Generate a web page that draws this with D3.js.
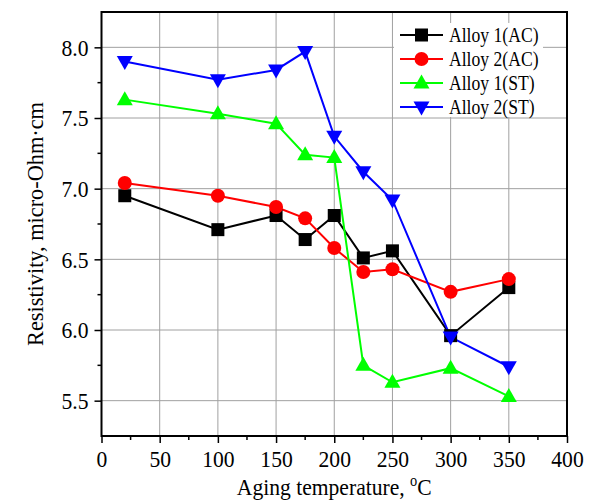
<!DOCTYPE html>
<html>
<head>
<meta charset="utf-8">
<script src="https://cdn.jsdelivr.net/npm/d3@7"></script>
<style>
  html, body { margin: 0; padding: 0; background: #fff; }
  svg text { font-family: "Liberation Serif", "Times New Roman", serif; fill: #000; }
</style>
</head>
<body>
<svg id="chart" width="592" height="503"></svg>
<script>
// Aging temperatures (°C)
const temps = [20, 100, 150, 175, 200, 225, 250, 300, 350];

// Resistivity, micro-Ohm·cm
const alloy1AC = [6.95, 6.71, 6.81, 6.64, 6.81, 6.51, 6.56, 5.96, 6.30];
const alloy2AC = [7.04, 6.95, 6.87, 6.79, 6.58, 6.41, 6.43, 6.27, 6.36];
const alloy1ST = [7.63, 7.53, 7.46, 7.24, 7.22, 5.75, 5.63, 5.73, 5.53];
const alloy2ST = [7.90, 7.77, 7.84, 7.97, 7.37, 7.12, 6.92, 5.95, 5.74];

const seriesNames = ["Alloy 1(AC)", "Alloy 2(AC)", "Alloy 1(ST)", "Alloy 2(ST)"];
const seriesColors = ["#000000", "#ff0000", "#00ff00", "#0000ff"];
const seriesSymbols = ["square", "circle", "up", "down"];

const xTicks = [0, 50, 100, 150, 200, 250, 300, 350, 400];
const yTicks = [5.5, 6.0, 6.5, 7.0, 7.5, 8.0];

const series = [alloy1AC, alloy2AC, alloy1ST, alloy2ST].map((vals, i) => ({
  name: seriesNames[i], color: seriesColors[i], symbol: seriesSymbols[i],
  points: temps.map((t, j) => ({ x: t, y: vals[j] }))
}));

const svg = d3.select("#chart");
const pLeft = 101.5, pRight = 567, pTop = 12, pBottom = 436;

const x = d3.scaleLinear().domain([0, 400]).range([pLeft, pRight]);
const y = d3.scaleLinear().domain([5.25, 8.25]).range([pBottom, pTop]);

// Narrow the serif face horizontally around an anchor point
function condense(sel, k, ax, ay) {
  sel.attr("transform", `translate(${ax},${ay}) scale(${k},1) translate(${-ax},${-ay})`);
}

// Grid lines at major ticks
const grid = svg.append("g").attr("stroke", "#a0a0a0").attr("stroke-width", 1);
grid.selectAll("line.v").data(xTicks.slice(1, -1)).join("line").attr("class", "v")
  .attr("x1", d => x(d)).attr("x2", d => x(d)).attr("y1", pTop).attr("y2", pBottom);
grid.selectAll("line.h").data(yTicks).join("line").attr("class", "h")
  .attr("y1", d => y(d)).attr("y2", d => y(d)).attr("x1", pLeft).attr("x2", pRight);

const legendRows = [35, 59, 83, 107];

// Marker drawing
function drawMarker(g, sym, color) {
  if (sym === "square") {
    g.append("rect").attr("x", -6.5).attr("y", -6.5).attr("width", 13).attr("height", 13).attr("fill", color);
  } else if (sym === "circle") {
    g.append("circle").attr("r", 7).attr("fill", color);
  } else if (sym === "up") {
    g.append("path").attr("d", "M0,-8.5 L8,5.5 L-8,5.5 Z").attr("fill", color);
  } else {
    g.append("path").attr("d", "M0,8.5 L8,-5.5 L-8,-5.5 Z").attr("fill", color);
  }
}

const line = d3.line().x(d => x(d.x)).y(d => y(d.y));
const plot = svg.append("g");
series.forEach(s => {
  plot.append("path").datum(s.points)
    .attr("d", line).attr("fill", "none")
    .attr("stroke", s.color).attr("stroke-width", 2);
});
series.forEach(s => {
  s.points.forEach(p => {
    const g = plot.append("g").attr("transform", `translate(${x(p.x)},${y(p.y)})`);
    drawMarker(g, s.symbol, s.color);
  });
});

// Legend
svg.append("rect").attr("x", 394).attr("y", 23).attr("width", 149).attr("height", 94).attr("fill", "#fff");
const legend = svg.append("g");
series.forEach((s, i) => {
  const ry = legendRows[i];
  legend.append("line").attr("x1", 400).attr("x2", 443).attr("y1", ry).attr("y2", ry)
    .attr("stroke", s.color).attr("stroke-width", 2);
  const g = legend.append("g").attr("transform", `translate(421.5,${ry})`);
  drawMarker(g, s.symbol, s.color);
  const t = legend.append("text").attr("x", 449).attr("y", ry + 7)
    .attr("font-size", 20.5).text(s.name);
  condense(t, 0.86, 449, ry + 7);
});

// Axes
const xAxis = d3.axisBottom(x).tickValues(xTicks).tickSize(7).tickPadding(7).tickFormat(d3.format("d"));
const yAxis = d3.axisLeft(y).tickValues(yTicks).tickSize(7).tickPadding(6).tickFormat(d3.format(".1f"));

const gx = svg.append("g").attr("transform", `translate(0,${pBottom})`).call(xAxis);
const gy = svg.append("g").attr("transform", `translate(${pLeft},0)`).call(yAxis);
[gx, gy].forEach(g => {
  g.select(".domain").remove();
  g.selectAll(".tick line").attr("stroke", "#000").attr("stroke-width", 1.5);
  g.selectAll(".tick text").attr("font-size", 24).attr("font-family", "Liberation Serif");
});
gx.selectAll(".tick text").each(function () {
  const t = d3.select(this);
  condense(t, 0.9, 0, +t.attr("y"));
});
gy.selectAll(".tick text").each(function () {
  const t = d3.select(this);
  condense(t, 0.9, +t.attr("x"), 0);
});

// Minor ticks
const xMinor = d3.range(25, 400, 50);
const yMinor = [5.75, 6.25, 6.75, 7.25, 7.75];
svg.append("g").selectAll("line").data(xMinor).join("line")
  .attr("x1", d => x(d)).attr("x2", d => x(d)).attr("y1", pBottom).attr("y2", pBottom + 4)
  .attr("stroke", "#000").attr("stroke-width", 1.5);
svg.append("g").selectAll("line").data(yMinor).join("line")
  .attr("y1", d => y(d)).attr("y2", d => y(d)).attr("x1", pLeft).attr("x2", pLeft - 4)
  .attr("stroke", "#000").attr("stroke-width", 1.5);

// Frame
svg.append("rect").attr("x", pLeft).attr("y", pTop).attr("width", pRight - pLeft).attr("height", pBottom - pTop)
  .attr("fill", "none").attr("stroke", "#000").attr("stroke-width", 2);

// Axis titles
const xcx = (pLeft + pRight) / 2;
const xt = svg.append("text").attr("x", xcx).attr("y", 495)
  .attr("text-anchor", "middle").attr("font-size", 24);
xt.append("tspan").text("Aging temperature, ");
xt.append("tspan").attr("font-size", 16).attr("dy", -9).text("o");
xt.append("tspan").attr("dy", 9).text("C");
condense(xt, 0.9, xcx, 495);

const ycy = (pTop + pBottom) / 2;
svg.append("g")
  .attr("transform", `translate(43,${ycy}) rotate(-90) scale(0.93,1)`)
  .append("text")
  .attr("text-anchor", "middle").attr("font-size", 24)
  .text("Resistivity, micro-Ohm·cm");
</script>
</body>
</html>
